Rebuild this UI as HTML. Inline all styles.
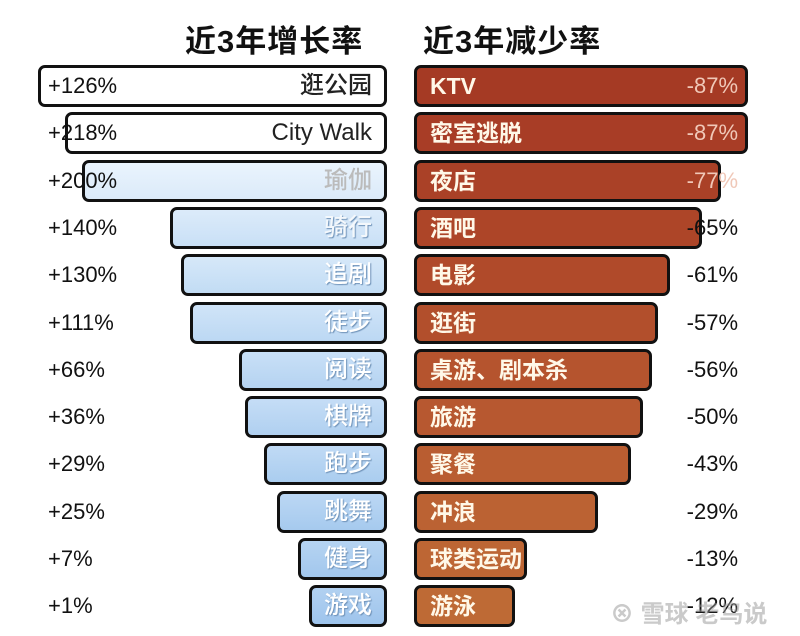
<!DOCTYPE html>
<html><head><meta charset="utf-8"><style>
body{margin:0;width:800px;height:636px;background:#fff;overflow:hidden;position:relative;font-family:"Liberation Sans","Noto Sans CJK SC",sans-serif}
.t{position:absolute;top:16px;font-size:31px;font-weight:bold;color:#111;letter-spacing:1px}
.b{position:absolute;height:42px;border:3px solid #111;border-radius:7px;box-sizing:border-box}
.l{position:absolute;font-size:24px;line-height:42px;font-weight:500}
.p{position:absolute;font-size:22px;line-height:42px;color:#111}
</style></head><body>
<div class="t" style="left:185px">近3年增长率</div>
<div class="t" style="left:423px">近3年减少率</div>
<div id="c"></div>
<div style="position:absolute;left:610px;top:594px;font-size:24px;color:rgba(150,150,150,.5);font-weight:bold">⊗ 雪球 老鸟说</div>
<script>
const L=[["+126%","逛公园",38,"#fff","#fff","#222"],["+218%","City Walk",65,"#fff","#fff","#222"],["+200%","瑜伽",82,"#eaf4fd","#dbeaf9","#bbb"],["+140%","骑行",170,"#dcebfa","#c9e0f6","#f4f8fc"],["+130%","追剧",181,"#d6e8f9","#c2dcf4","#fff"],["+111%","徒步",190,"#d0e4f8","#bcd8f3","#fff"],["+66%","阅读",239,"#c9e0f7","#b5d3f1","#fff"],["+36%","棋牌",245,"#c5ddf6","#b0d0f0","#fff"],["+29%","跑步",264,"#c0daf5","#aacdef","#fff"],["+25%","跳舞",277,"#bbd7f4","#a6caee","#fff"],["+7%","健身",298,"#b6d4f2","#a2c7ed","#fff"],["+1%","游戏",309,"#b2d1f1","#9ec4ec","#fff"]];
const R=[["KTV","-87%",748,"#a53a24"],["密室逃脱","-87%",748,"#a83d26"],["夜店","-77%",721,"#aa4127"],["酒吧","-65%",702,"#ad4528"],["电影","-61%",670,"#b04a2a"],["逛街","-57%",658,"#b24f2c"],["桌游、剧本杀","-56%",652,"#b5542e"],["旅游","-50%",643,"#b75830"],["聚餐","-43%",631,"#b95d31"],["冲浪","-29%",598,"#bb6233"],["球类运动","-13%",527,"#bd6634"],["游泳","-12%",515,"#be6a35"]];
let h="";
for(let i=0;i<12;i++){const y=65+i*47.3;const a=L[i];
h+=`<div class="b" style="left:${a[2]}px;top:${y}px;width:${387-a[2]}px;background:linear-gradient(${a[3]},${a[4]})"></div>`;
h+=`<div class="l" style="right:${800-372}px;top:${y}px;color:${a[5]};${i>2?'text-shadow:1px 1px 1px #6f92b8;':''}">${a[1]}</div>`;
h+=`<div class="p" style="left:48px;top:${y}px">${a[0]}</div>`;
const r=R[i];
h+=`<div class="b" style="left:414px;top:${y}px;width:${r[2]-414}px;background:${r[3]}"></div>`;
h+=`<div class="l" style="left:430px;color:#fff8e8;font-weight:bold;font-size:23px;top:${y}px">${r[0]}</div>`;
h+=`<div class="p" style="right:${800-738}px;top:${y}px;color:${i<3?'#f0c8b8':'#111'}">${r[1]}</div>`;}
document.getElementById("c").innerHTML=h;
</script>
</body></html>
